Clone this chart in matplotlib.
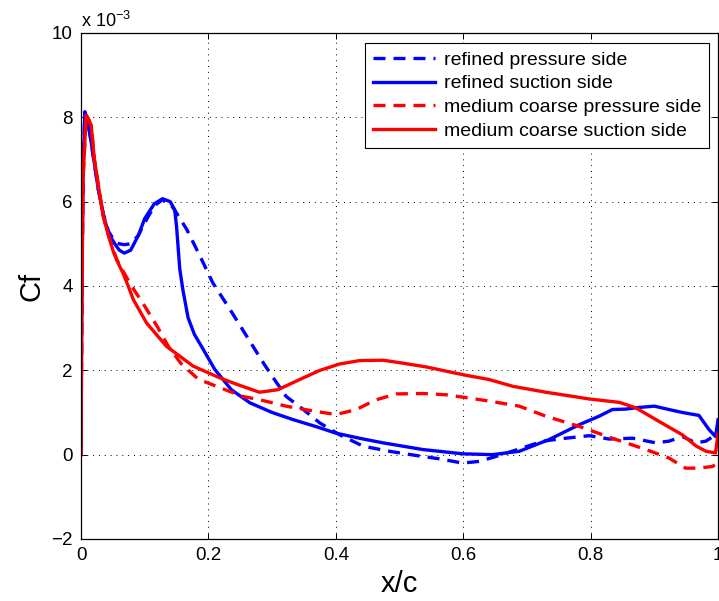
import matplotlib.pyplot as plt
import numpy as np

plt.rcParams['font.family'] = ['Liberation Sans', 'DejaVu Sans']
plt.rcParams['mathtext.fontset'] = 'custom'
plt.rcParams['mathtext.rm'] = 'Liberation Sans'

# skin friction coefficient along the chord, values in units of 1e-3
x_rp = [0, 0.001, 0.003, 0.006, 0.009, 0.014, 0.02, 0.027, 0.035, 0.043, 0.052,
        0.06, 0.068, 0.078, 0.09, 0.10, 0.115, 0.128, 0.14, 0.15, 0.166, 0.187,
        0.207, 0.234, 0.26, 0.286, 0.30, 0.322, 0.349, 0.375, 0.406, 0.443,
        0.484, 0.526, 0.563, 0.599, 0.625, 0.652, 0.693, 0.725, 0.761, 0.798,
        0.829, 0.866, 0.902, 0.923, 0.944, 0.965, 0.981, 0.996]
cf_rp = [0, 3.2, 6.6, 8.13, 7.98, 7.6, 7.0, 6.3, 5.7, 5.3, 5.08,
         5.0, 4.98, 5.0, 5.2, 5.5, 5.9, 6.05, 5.95, 5.73, 5.34, 4.7,
         4.07, 3.44, 2.81, 2.18, 1.86, 1.38, 1.07, 0.75, 0.47, 0.2,
         0.08, -0.02, -0.1, -0.2, -0.16, -0.04, 0.16, 0.32, 0.39, 0.45,
         0.37, 0.39, 0.28, 0.32, 0.43, 0.28, 0.32, 0.47]

x_rs = [0, 0.001, 0.003, 0.006, 0.009, 0.014, 0.02, 0.027, 0.035, 0.043, 0.053,
        0.06, 0.068, 0.078, 0.09, 0.10, 0.115, 0.128, 0.14, 0.147, 0.150, 0.152,
        0.155, 0.160, 0.168, 0.178, 0.189, 0.21, 0.236, 0.265, 0.30, 0.333,
        0.37, 0.40, 0.44, 0.474, 0.537, 0.599, 0.646, 0.688, 0.735, 0.782,
        0.813, 0.834, 0.855, 0.876, 0.90, 0.923, 0.944, 0.97, 0.986, 0.996, 1.0]
cf_rs = [0, 3.2, 6.6, 8.13, 7.98, 7.6, 7.0, 6.3, 5.7, 5.25, 5.0,
         4.85, 4.78, 4.85, 5.2, 5.6, 5.95, 6.07, 6.0, 5.81, 5.4, 5.0,
         4.4, 3.9, 3.25, 2.85, 2.57, 2.02, 1.54, 1.23, 1.0, 0.83,
         0.66, 0.51, 0.38, 0.28, 0.12, 0.02, 0.0, 0.08, 0.36, 0.71,
         0.91, 1.07, 1.08, 1.12, 1.15, 1.07, 1.0, 0.93, 0.59, 0.43, 0.83]

x_mp = [0, 0.001, 0.003, 0.008, 0.012, 0.016, 0.021, 0.028, 0.035, 0.043, 0.051,
        0.056, 0.068, 0.078, 0.10, 0.12, 0.137, 0.157, 0.184, 0.223, 0.254,
        0.281, 0.322, 0.359, 0.40, 0.432, 0.463, 0.495, 0.537, 0.573, 0.61,
        0.641, 0.688, 0.73, 0.782, 0.834, 0.887, 0.923, 0.949, 0.97, 0.991, 1.0]
cf_mp = [0, 3.0, 6.5, 8.05, 7.95, 7.8, 7.0, 6.3, 5.65, 5.2, 4.85,
         4.63, 4.3, 4.03, 3.52, 3.03, 2.57, 2.16, 1.79, 1.56, 1.38,
         1.30, 1.15, 1.05, 0.95, 1.07, 1.30, 1.44, 1.45, 1.42, 1.34,
         1.27, 1.15, 0.91, 0.67, 0.39, 0.12, -0.08, -0.32, -0.32, -0.28, -0.2]

x_ms = [0, 0.001, 0.003, 0.008, 0.012, 0.016, 0.021, 0.028, 0.035, 0.043, 0.051,
        0.058, 0.066, 0.074, 0.082, 0.103, 0.134, 0.176, 0.218, 0.246, 0.28,
        0.309, 0.343, 0.375, 0.406, 0.437, 0.474, 0.505, 0.542, 0.573, 0.605,
        0.641, 0.678, 0.73, 0.798, 0.845, 0.871, 0.907, 0.944, 0.965, 0.981,
        0.996, 1.0]
cf_ms = [0, 3.0, 6.5, 8.05, 7.95, 7.8, 7.0, 6.3, 5.65, 5.2, 4.8,
         4.55, 4.3, 4.0, 3.68, 3.12, 2.57, 2.1, 1.82, 1.66, 1.48,
         1.54, 1.78, 2.0, 2.15, 2.23, 2.24, 2.17, 2.08, 1.98, 1.88,
         1.78, 1.62, 1.48, 1.32, 1.24, 1.11, 0.79, 0.47, 0.21, 0.08,
         0.04, 0.5]

scale = 1e-3
lw = 2.4
dash = (3.6, 2.4)

fig = plt.figure(figsize=(7.19, 6.01), dpi=100)
ax = fig.add_axes([0.1127, 0.1032, 0.8860, 0.8419])

ax.plot(x_rp, np.array(cf_rp) * scale, color='blue', lw=lw, dashes=dash,
        label='refined pressure side')
ax.plot(x_rs, np.array(cf_rs) * scale, color='blue', lw=lw,
        label='refined suction side')
ax.plot(x_mp, np.array(cf_mp) * scale, color='red', lw=lw, dashes=dash,
        label='medium coarse pressure side')
ax.plot(x_ms, np.array(cf_ms) * scale, color='red', lw=lw,
        label='medium coarse suction side')

ax.set_xlim(0, 1)
ax.set_ylim(-2e-3, 10e-3)
ax.set_xticks([0, 0.2, 0.4, 0.6, 0.8, 1])
ax.set_xticklabels(['0', '0.2', '0.4', '0.6', '0.8', '1'])
yt = [-2, 0, 2, 4, 6, 8, 10]
ax.set_yticks(np.array(yt) * scale)
ax.set_yticklabels(['\u22122' if v < 0 else str(v) for v in yt])
ax.tick_params(direction='in', top=True, right=True, length=4, width=0.7,
               labelsize=13.5, pad=6)
ax.grid(True, color='black', linestyle=(0, (1, 5)), linewidth=0.7)
for s in ax.spines.values():
    s.set_linewidth(0.9)

ax.text(0, 1.004, r'x 10$^{-3}$', transform=ax.transAxes, ha='left',
        va='bottom', fontsize=13)

ax.set_xlabel('x/c', fontsize=21, labelpad=4)
ax.set_ylabel('Cf', fontsize=21, labelpad=4)

leg = ax.legend(loc='upper right', bbox_to_anchor=(0.986, 0.980),
                borderaxespad=0, fontsize=14, handlelength=3.2,
                labelspacing=0.32, fancybox=False, framealpha=1,
                edgecolor='black', borderpad=0.4, handletextpad=0.45)
leg.get_frame().set_linewidth(0.8)

fig.savefig('out.png', dpi=100)
